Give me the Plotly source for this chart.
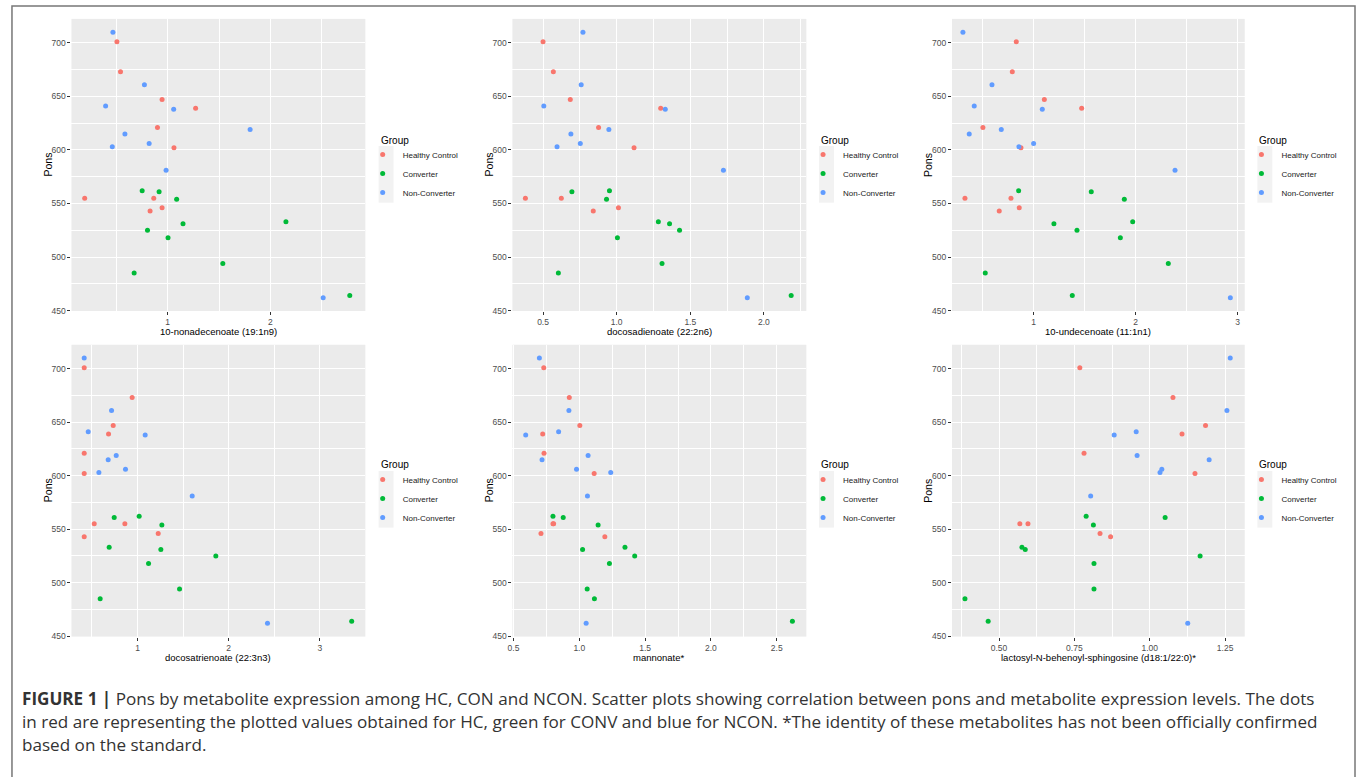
import plotly.graph_objects as go

W, H = 1357, 777

# ---------------- data ----------------
groups = ["Healthy Control", "Converter", "Non-Converter"]
colors = ["#F8766D", "#00BA38", "#619CFF"]

pons_hc = [701, 673, 647, 639, 621, 602, 555, 555, 546, 543]
pons_conv = [562, 561, 554, 533, 531, 525, 518, 494, 485, 464]
pons_ncon = [710, 661, 641, 638, 619, 615, 606, 603, 581, 462]

metabolites = [
    "10-nonadecenoate (19:1n9)",
    "docosadienoate (22:2n6)",
    "10-undecenoate (11:1n1)",
    "docosatrienoate (22:3n3)",
    "mannonate*",
    "lactosyl-N-behenoyl-sphingosine (d18:1/22:0)*",
]

# metabolite expression, one list per panel and group
hc_nonadecenoate = [0.505, 0.540, 0.945, 1.272, 0.900, 1.061, 0.191, 0.864, 0.945, 0.828]
conv_nonadecenoate = [0.751, 0.916, 1.087, 2.152, 1.149, 0.803, 1.003, 1.537, 0.673, 2.774]
ncon_nonadecenoate = [0.466, 0.773, 0.395, 1.058, 1.803, 0.583, 0.819, 0.460, 0.984, 2.515]

hc_docosadienoate = [0.500, 0.570, 0.685, 1.299, 0.877, 1.118, 0.380, 0.624, 1.012, 0.841]
conv_docosadienoate = [0.951, 0.696, 0.931, 1.283, 1.359, 1.427, 1.005, 1.308, 0.604, 2.185]
ncon_docosadienoate = [0.771, 0.759, 0.505, 1.330, 0.947, 0.689, 0.753, 0.595, 1.725, 1.887]

hc_undecenoate = [0.830, 0.791, 1.105, 1.471, 0.503, 0.876, 0.327, 0.778, 0.859, 0.663]
conv_undecenoate = [0.853, 1.565, 1.889, 1.971, 1.199, 1.425, 1.850, 2.320, 0.526, 1.379]
ncon_undecenoate = [0.307, 0.592, 0.418, 1.085, 0.683, 0.369, 1.000, 0.856, 2.386, 2.928]

hc_docosatrienoate = [0.415, 0.941, 0.733, 0.682, 0.415, 0.415, 0.525, 0.861, 1.227, 0.415]
conv_docosatrienoate = [1.018, 0.744, 1.267, 0.689, 1.256, 1.859, 1.121, 1.461, 0.590, 3.350]
ncon_docosatrienoate = [0.415, 0.715, 0.459, 1.084, 0.766, 0.678, 0.868, 0.576, 1.600, 2.426]

hc_mannonate = [0.730, 0.924, 1.004, 0.722, 0.732, 1.113, 0.800, 0.805, 0.709, 1.194]
conv_mannonate = [0.800, 0.878, 1.143, 1.347, 1.025, 1.421, 1.229, 1.060, 1.115, 2.619]
ncon_mannonate = [0.697, 0.921, 0.843, 0.593, 1.067, 0.717, 0.979, 1.239, 1.062, 1.052]

hc_lactosyl = [0.768, 1.077, 1.185, 1.107, 0.782, 1.150, 0.569, 0.596, 0.835, 0.870]
conv_lactosyl = [0.789, 1.051, 0.813, 0.576, 0.587, 1.167, 0.815, 0.815, 0.387, 0.464]
ncon_lactosyl = [1.267, 1.256, 0.955, 0.882, 0.958, 1.197, 1.040, 1.034, 0.804, 1.126]

panel_x = [
    (hc_nonadecenoate, conv_nonadecenoate, ncon_nonadecenoate),
    (hc_docosadienoate, conv_docosadienoate, ncon_docosadienoate),
    (hc_undecenoate, conv_undecenoate, ncon_undecenoate),
    (hc_docosatrienoate, conv_docosatrienoate, ncon_docosatrienoate),
    (hc_mannonate, conv_mannonate, ncon_mannonate),
    (hc_lactosyl, conv_lactosyl, ncon_lactosyl),
]
pons_by_group = [pons_hc, pons_conv, pons_ncon]

caption_lines = [
    "<b>FIGURE 1 |</b> Pons by metabolite expression among HC, CON and NCON. Scatter plots showing correlation between pons and metabolite expression levels. The dots",
    "in red are representing the plotted values obtained for HC, green for CONV and blue for NCON. *The identity of these metabolites has not been officially confirmed",
    "based on the standard.",
]

# ---------------- layout helpers ----------------
x_ranges = [[0.062, 2.926], [0.292, 2.288], [0.200, 3.069],
            [0.275, 3.500], [0.492, 2.725], [0.344, 1.315]]
x_dticks = [1, 0.5, 1, 1, 0.5, 0.25]
x_formats = ["d", ".1f", "d", "d", ".1f", ".2f"]
y_range = [449.6, 722.4]

col_px = [(66.7, 361.7), (509.3, 804.3), (950.5, 1244.3)]
row_px = [(19.0, 313.0), (347.0, 640.7)]
legend_title_x_px = [375, 817, 1257]
legend_title_y_px = [141, 468]
legend_item_x_px = [359, 801, 1241]
legend_top_px = [141, 468]
key_bg_px = [(375, 390), (817, 832), (1257, 1272)]
xtitle_y_px = [334, 661.5]

fig = go.Figure()
layout = dict(
    width=W, height=H,
    margin=dict(l=0, r=0, t=0, b=0),
    paper_bgcolor="white",
    plot_bgcolor="#EBEBEB",
    font=dict(family="Liberation Sans, Arial, sans-serif", color="#4D4D4D"),
    annotations=[], shapes=[],
)

for k in range(6):
    r, c = divmod(k, 3)
    sfx = "" if k == 0 else str(k + 1)
    leg = "legend" if k == 0 else f"legend{k + 1}"
    for g in range(3):
        fig.add_trace(go.Scatter(
            x=panel_x[k][g], y=pons_by_group[g], mode="markers",
            marker=dict(color=colors[g], size=5, line=dict(width=0)),
            name=groups[g], legend=leg, showlegend=True,
            xaxis="x" + sfx, yaxis="y" + sfx,
        ))
    x0, x1 = col_px[c]
    y0, y1 = row_px[r]
    common = dict(
        showgrid=True, gridcolor="white", gridwidth=1.1,
        zeroline=False, showline=False,
        ticks="outside", ticklen=3, tickwidth=1, tickcolor="#333333",
        tickfont=dict(size=8.5, color="#4D4D4D"),
    )
    layout["xaxis" + sfx] = dict(
        domain=[x0 / W, x1 / W], anchor="y" + sfx, range=x_ranges[k],
        tick0=0, dtick=x_dticks[k], tickformat=x_formats[k],
        minor=dict(tick0=0, dtick=x_dticks[k] / 2, showgrid=True,
                   gridcolor="white", gridwidth=0.5, ticks=""),
        **common,
    )
    layout["yaxis" + sfx] = dict(
        domain=[1 - y1 / H, 1 - y0 / H], anchor="x" + sfx, range=y_range,
        tick0=0, dtick=50,
        minor=dict(tick0=0, dtick=25, showgrid=True,
                   gridcolor="white", gridwidth=0.5, ticks=""),
        **common,
    )
    layout[leg] = dict(
        x=legend_item_x_px[c] / W, y=1 - legend_top_px[r] / H,
        xanchor="left", yanchor="top",
        bgcolor="rgba(0,0,0,0)", borderwidth=0,
        font=dict(size=8, color="#222222"),
        itemwidth=30, tracegroupgap=0,
    )
    # legend title
    layout["annotations"].append(dict(
        text="Group", x=legend_title_x_px[c] / W, y=1 - legend_title_y_px[r] / H,
        xref="paper", yref="paper", showarrow=False,
        xanchor="left", yanchor="middle",
        font=dict(size=10, color="black"),
    ))
    # legend key background
    kx0, kx1 = key_bg_px[c]
    ky0 = legend_title_y_px[r] + 6
    layout["shapes"].append(dict(
        type="rect", xref="paper", yref="paper",
        x0=kx0 / W, x1=kx1 / W, y0=1 - (ky0 + 57) / H, y1=1 - ky0 / H,
        line=dict(width=0), fillcolor="#F2F2F2", layer="below",
    ))
    # axis titles
    layout["annotations"].append(dict(
        text=metabolites[k], x=(x0 + x1) / 2 / W, y=1 - xtitle_y_px[r] / H,
        xref="paper", yref="paper", showarrow=False,
        xanchor="center", yanchor="middle",
        font=dict(size=9.5, color="black"),
    ))
    layout["annotations"].append(dict(
        text="Pons", x=(x0 - 24) / W, y=1 - (y0 + y1) / 2 / H,
        xref="paper", yref="paper", showarrow=False, textangle=-90,
        xanchor="center", yanchor="middle",
        font=dict(size=10.5, color="black"),
    ))

# caption
for i, line in enumerate(caption_lines):
    layout["annotations"].append(dict(
        text=line, x=15 / W, y=1 - (703 + 23 * i) / H,
        xref="paper", yref="paper", showarrow=False,
        xanchor="left", yanchor="middle", align="left",
        font=dict(size=17.1, color="#333333", family="Open Sans, Liberation Sans, sans-serif"),
    ))

# figure frame
layout["shapes"].append(dict(
    type="rect", xref="paper", yref="paper",
    x0=7 / W, x1=1355 / W, y0=-0.05, y1=1 - 6 / H,
    line=dict(color="#777777", width=1.5), fillcolor="rgba(0,0,0,0)", layer="below",
))

fig.update_layout(**layout)
fig.write_html("out.html", config={"displayModeBar": False},
               post_script="document.body.style.margin='0px';")
